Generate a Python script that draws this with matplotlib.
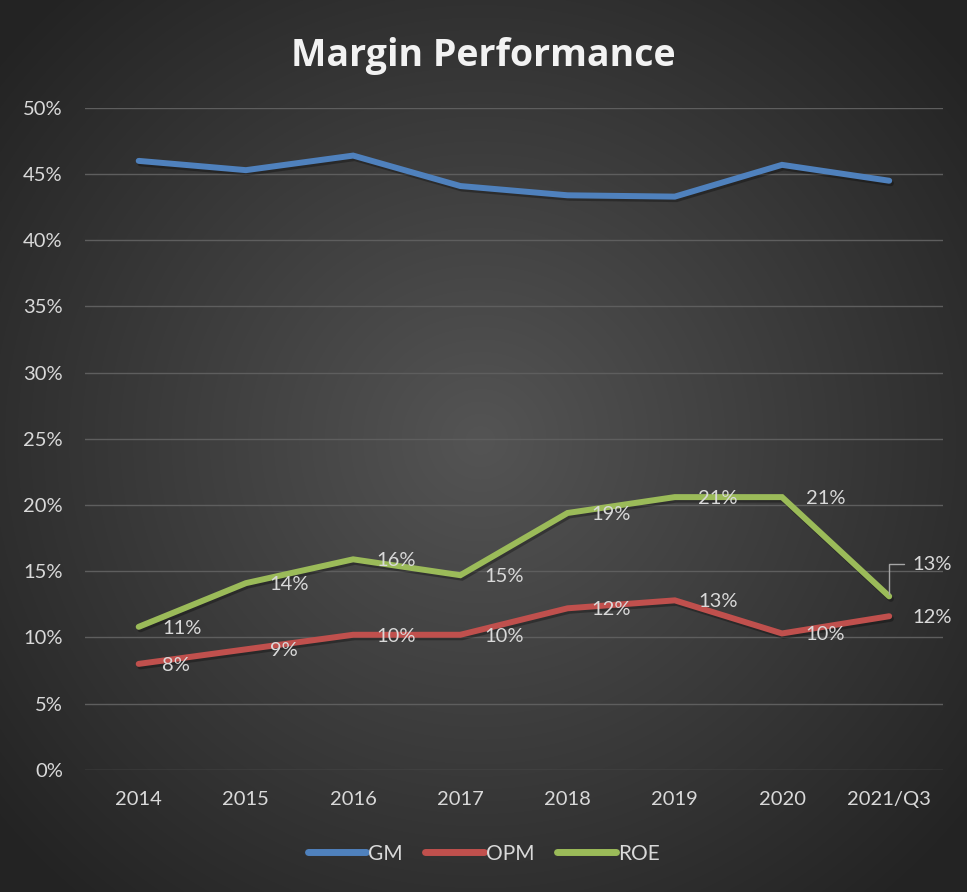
import matplotlib
matplotlib.use('Agg')
import matplotlib.pyplot as plt
import matplotlib.patheffects as pe
import numpy as np

# Values (fractions)
years = ['2014', '2015', '2016', '2017', '2018', '2019', '2020', '2021/Q3']
gm = [0.460, 0.453, 0.464, 0.441, 0.434, 0.433, 0.457, 0.445]
opm = [0.080, 0.091, 0.102, 0.102, 0.122, 0.128, 0.103, 0.116]
roe = [0.108, 0.141, 0.159, 0.147, 0.194, 0.206, 0.206, 0.131]
opm_labels = ['8%', '9%', '10%', '10%', '12%', '13%', '10%', '12%']
roe_labels = ['11%', '14%', '16%', '15%', '19%', '21%', '21%', '13%']

plt.rcParams['font.family'] = ['Lato', 'DejaVu Sans']
txt_col = '#d9d9d9'
fs = 14.5

fig = plt.figure(figsize=(9.67, 8.92), dpi=100)

# Radial gradient background
bg = fig.add_axes([0, 0, 1, 1], zorder=-10)
yy, xx = np.mgrid[0:892, 0:967]
r = np.sqrt(((xx - 480) / 620.0) ** 2 + ((yy - 440) / 600.0) ** 2)
shade = np.clip(0.33 - 0.19 * r, 0.14, 0.33)
bg.imshow(np.dstack([shade, shade, shade]), aspect='auto', extent=[0, 1, 0, 1])
bg.axis('off')

ax = fig.add_axes([0.088, 0.137, 0.887, 0.742])
ax.patch.set_alpha(0)
x = np.arange(len(years))

shadow = [pe.SimpleLineShadow(offset=(1.2, -1.8), shadow_color='black', alpha=0.3), pe.Normal()]
ax.plot(x, gm, color='#4f81bd', lw=4.3, solid_capstyle='round', solid_joinstyle='miter',
        label='GM', path_effects=shadow, zorder=3)
ax.plot(x, opm, color='#c0504d', lw=4.3, solid_capstyle='round', solid_joinstyle='miter',
        label='OPM', path_effects=shadow, zorder=3)
ax.plot(x, roe, color='#9bbb59', lw=4.3, solid_capstyle='round', solid_joinstyle='miter',
        label='ROE', path_effects=shadow, zorder=3)

# Data labels to the right of each point
for i in range(len(years)):
    ax.annotate(opm_labels[i], (x[i], opm[i]), xytext=(17, -1), textcoords='offset points',
                ha='left', va='center', color=txt_col, fontsize=fs, zorder=4)
    if i == len(years) - 1:
        # last ROE label sits up-right with a leader line
        ax.annotate(roe_labels[i], (x[i], roe[i]), xytext=(17, 23), textcoords='offset points',
                    ha='left', va='center', color=txt_col, fontsize=fs, zorder=4,
                    arrowprops=dict(arrowstyle='-', color='#a6a6a6', lw=1,
                                    connectionstyle='angle,angleA=0,angleB=90,rad=0',
                                    shrinkA=4, shrinkB=2))
    else:
        ax.annotate(roe_labels[i], (x[i], roe[i]), xytext=(17, -1), textcoords='offset points',
                    ha='left', va='center', color=txt_col, fontsize=fs, zorder=4)

ax.set_xlim(-0.5, len(years) - 0.5)
ax.set_ylim(0, 0.5)
ax.set_yticks(np.arange(0, 0.51, 0.05))
ax.set_yticklabels(['%d%%' % v for v in range(0, 51, 5)])
ax.set_xticks(x)
ax.set_xticklabels(years)
ax.tick_params(colors=txt_col, labelsize=fs, length=0, pad=15)
ax.tick_params(axis='y', pad=16)
ax.grid(axis='y', color='#5e5e5e', lw=1)
for s in ax.spines.values():
    s.set_visible(False)

fig.suptitle('Margin Performance', x=0.5, y=0.959, color='#f2f2f2', fontsize=27,
             fontweight='bold', family='Open Sans')

leg = fig.legend(loc='center', bbox_to_anchor=(0.5, 0.043), ncol=3, frameon=False,
                 fontsize=15, handlelength=2.8, handletextpad=0.1, columnspacing=1.1)
for t in leg.get_texts():
    t.set_color(txt_col)
for h in leg.get_lines():
    h.set_linewidth(5)
    h.set_path_effects([])

fig.savefig('out.png', dpi=100)
